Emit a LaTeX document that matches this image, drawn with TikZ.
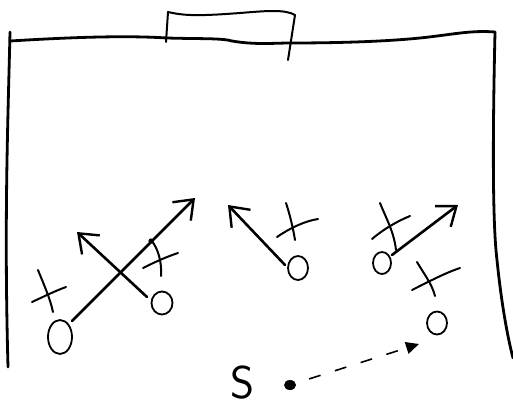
\documentclass[tikz,border=0pt]{standalone}
\usetikzlibrary{arrows.meta,shapes.geometric}
\begin{document}
\begin{tikzpicture}[x=1pt,y=-1pt,
  bound/.style={line width=2.8pt,line cap=round,line join=round},
  goalline/.style={line width=2pt,line cap=round,line join=round},
  run/.style={line width=2.6pt,line cap=round,-{Straight Barb[length=17pt,width=26pt,line width=2.4pt]}},
  xmark/.style={line width=2pt,line cap=round},
  omark/.style={draw,ellipse,line width=1.8pt,inner sep=0pt},
  pass/.style={line width=1.6pt,dash pattern=on 12pt off 15pt,-{Triangle[length=13pt,width=12pt]}}
]
\useasboundingbox (0,0) rectangle (513,412);

% field boundary
\draw[bound] (10,41) .. controls (60,38) and (120,35) .. (167,38)
  .. controls (200,39) and (222,38) .. (232,41)
  .. controls (255,45) and (275,43) .. (290,43)
  .. controls (330,43) and (380,42) .. (420,38)
  .. controls (450,35) and (470,30) .. (495,32);
\draw[bound] (10,32) .. controls (8,120) and (4,220) .. (8,367);
\draw[bound] (495,32) .. controls (493,120) and (492,220) .. (497,260)
  .. controls (501,300) and (507,335) .. (513,358);

% goal
\draw[goalline] (166,42) -- (168,12) .. controls (185,16) and (200,16) .. (240,13)
  .. controls (265,11) and (285,9) .. (295,15) -- (288,60);

% offence (O)
\node[omark,minimum width=24pt,minimum height=34pt] (o1) at (60,337) {};
\node[omark,minimum width=21pt,minimum height=23pt] (o2) at (162,303) {};
\node[omark,minimum width=20pt,minimum height=24pt] (o3) at (298,268) {};
\node[omark,minimum width=18pt,minimum height=22pt] (o4) at (382,263) {};
\node[omark,minimum width=20pt,minimum height=23pt] (o5) at (437,323) {};

% defence (X)
\draw[xmark] (32,302) .. controls (45,296) and (55,291) .. (66,287);
\draw[xmark] (38,270) .. controls (44,285) and (50,298) .. (53,312);
\draw[xmark] (143,268) .. controls (155,262) and (166,257) .. (178,253);
\draw[xmark] (151,240) .. controls (158,248) and (162,262) .. (161,276);
\draw[xmark] (277,237) .. controls (290,228) and (305,221) .. (318,219);
\draw[xmark] (286,203) .. controls (290,215) and (293,228) .. (295,240);
\draw[xmark] (372,239) .. controls (385,228) and (398,221) .. (410,216);
\draw[xmark] (380,203) .. controls (386,218) and (394,232) .. (396,250);
\draw[xmark] (412,290) .. controls (428,282) and (445,273) .. (460,268);
\draw[xmark] (417,262) .. controls (424,274) and (432,284) .. (435,296);

% runs
\coordinate (a1s) at (72,321);  \coordinate (a1e) at (195,198);
\coordinate (a2s) at (147,297); \coordinate (a2e) at (77,232);
\coordinate (a3s) at (285,265); \coordinate (a3e) at (228,205);
\coordinate (a4s) at (392,255); \coordinate (a4e) at (458,205);
\draw[run] (a1s) -- (a1e);
\draw[run] (a2s) -- (a2e);
\draw[run] (a3s) -- (a3e);
\draw[run] (a4s) -- (a4e);
\fill (151,241) circle (2.6pt);

% ball and pass
\node[fill,ellipse,minimum width=12pt,minimum height=10pt,inner sep=0pt] (ball) at (290,385) {};
\coordinate (pe) at (419,344);
\draw[pass,shorten <=14pt] (ball) -- (pe);
\node[font=\fontsize{46}{46}\sffamily,inner sep=1pt] (s) at (243,383) {S};
\end{tikzpicture}
\end{document}
